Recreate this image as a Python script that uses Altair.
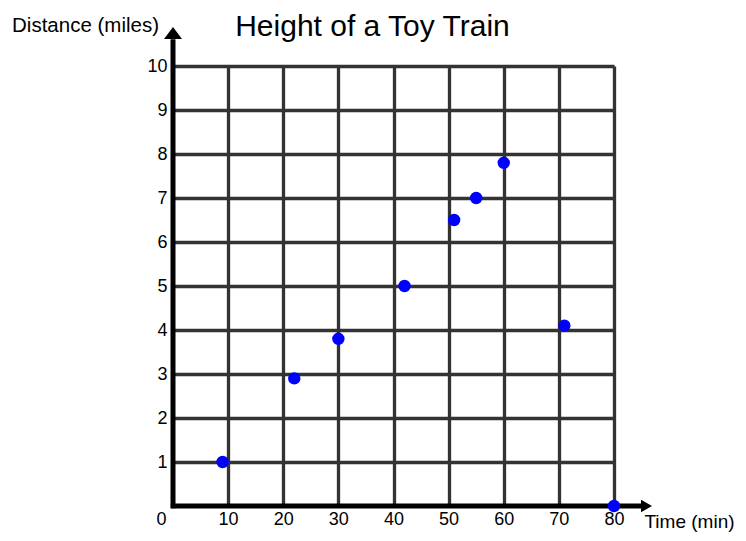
import altair as alt
import pandas as pd

# ---- data ----
time_min = [9, 22, 30, 42, 51, 55, 60, 71, 80]
distance_miles = [1, 2.9, 3.8, 5, 6.5, 7, 7.8, 4.1, 0]
x_ticks = [10, 20, 30, 40, 50, 60, 70, 80]
y_ticks = [1, 2, 3, 4, 5, 6, 7, 8, 9, 10]
title_text = "Height of a Toy Train"
x_title = "Time (min)"
y_title = "Distance (miles)"

FONT = "Liberation Sans"
W, H = 441, 440

df = pd.DataFrame({"time": time_min, "distance": distance_miles})

xs = alt.Scale(domain=[0, 80], nice=False, zero=False)
ys = alt.Scale(domain=[0, 10], nice=False, zero=False)

common_axis = dict(
    grid=True, gridColor="#333333", gridWidth=3.3, gridOpacity=1,
    domain=False, ticks=False, tickSize=0,
    labelFont=FONT, labelFontSize=18, labelColor="black",
    labelFlush=False, labelOverlap=False,
    titleFont=FONT, titleFontWeight="normal", titleColor="black",
    titleAlign="center", titleBaseline="alphabetic",
)
x_axis = alt.Axis(values=x_ticks, title=x_title, labelPadding=4, titleFontSize=19,
                  titleX=516, titleY=21, **common_axis)
y_axis = alt.Axis(values=y_ticks, title=y_title, labelPadding=6, titleAngle=0, titleFontSize=20.5,
                  titleX=-88, titleY=-35, **common_axis)

X = alt.X("time:Q", scale=xs, axis=x_axis)
Y = alt.Y("distance:Q", scale=ys, axis=y_axis)

# axis lines (black, thick) drawn as rules
axes_df = pd.DataFrame({
    "time": [0, -0.4], "time2": [0, 84.9],
    "distance": [-0.05, 0], "distance2": [10.61, 0],
})
axis_lines = alt.Chart(axes_df).mark_rule(color="black", strokeWidth=5, clip=False).encode(
    x=X, x2="time2:Q", y=Y, y2="distance2:Q"
)

# arrow heads
arrows_df = pd.DataFrame({
    "time": [0, 85.9], "distance": [10.75, 0],
    "shape": ["M-1,0.667L0,-0.667L1,0.667Z", "M-0.611,-0.7L0.611,0L-0.611,0.7Z"],
})
arrows = alt.Chart(arrows_df).mark_point(
    filled=True, color="black", opacity=1, size=324, strokeWidth=0, clip=False
).encode(x=X, y=Y, shape=alt.Shape("shape:N", scale=None, legend=None))

points = alt.Chart(df).mark_circle(size=154, color="#0000ff", opacity=1).encode(
    x=X, y=Y
)

origin = alt.Chart(pd.DataFrame({"time": [0], "distance": [0], "lbl": ["0"]})).mark_text(
    font=FONT, fontSize=18, color="black", baseline="top", align="center", dx=-11.5, dy=5, clip=False
).encode(x=X, y=Y, text="lbl:N")

title = alt.Chart(pd.DataFrame({"t": [title_text]})).mark_text(
    font=FONT, fontSize=30, color="black", baseline="alphabetic", align="center"
).encode(text="t:N", x=alt.value(199.5), y=alt.value(-30.5))

chart = alt.layer(axis_lines, arrows, points, origin, title).properties(
    width=W, height=H,
    autosize=alt.AutoSizeParams(type="none"),
    padding={"left": 165, "top": 58, "right": 124, "bottom": 26},
    background="white",
).configure_view(stroke=None)

chart.save("out.html", embed_options={"renderer": "svg", "actions": False})
